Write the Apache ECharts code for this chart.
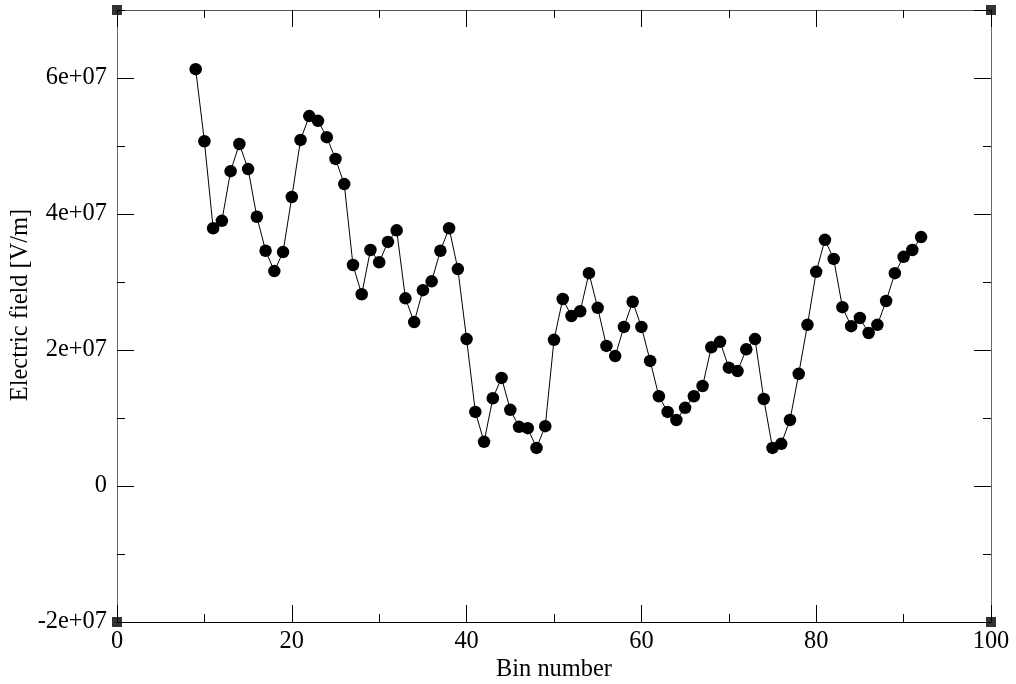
<!DOCTYPE html>
<html>
<head>
<meta charset="utf-8">
<script src="https://cdn.jsdelivr.net/npm/echarts@6/dist/echarts.min.js"></script>
<style>html,body{margin:0;padding:0;background:#fff;}#chart{width:1016px;height:684px;}</style>
</head>
<body>
<div id="chart"></div>
<script>
// ---- data ----
const bins = [9,10,11,12,13,14,15,16,17,18,19,20,21,22,23,24,25,26,27,28,29,30,31,32,33,34,35,36,37,38,39,40,41,42,43,44,45,46,47,48,49,50,51,52,53,54,55,56,57,58,59,60,61,62,63,64,65,66,67,68,69,70,71,72,73,74,75,76,77,78,79,80,81,82,83,84,85,86,87,88,89,90,91,92];
const efield = [6.13e7,5.07e7,3.79e7,3.90e7,4.63e7,5.03e7,4.66e7,3.96e7,3.46e7,3.16e7,3.44e7,4.25e7,5.09e7,5.44e7,5.37e7,5.13e7,4.81e7,4.44e7,3.25e7,2.82e7,3.47e7,3.29e7,3.59e7,3.76e7,2.76e7,2.41e7,2.88e7,3.01e7,3.46e7,3.79e7,3.19e7,2.16e7,1.09e7,0.65e7,1.29e7,1.59e7,1.12e7,0.87e7,0.85e7,0.56e7,0.88e7,2.15e7,2.75e7,2.50e7,2.57e7,3.13e7,2.62e7,2.06e7,1.91e7,2.34e7,2.71e7,2.34e7,1.84e7,1.32e7,1.09e7,0.97e7,1.15e7,1.32e7,1.47e7,2.04e7,2.12e7,1.74e7,1.69e7,2.01e7,2.16e7,1.28e7,0.56e7,0.62e7,0.97e7,1.65e7,2.37e7,3.15e7,3.62e7,3.34e7,2.63e7,2.35e7,2.47e7,2.25e7,2.37e7,2.72e7,3.13e7,3.37e7,3.47e7,3.66e7];
const xTickValues = [0,20,40,60,80,100];
const xTickLabels = ['0','20','40','60','80','100'];
const yTickValues = [-2e7,0,2e7,4e7,6e7];
const yTickLabels = ['-2e+07','0','2e+07','4e+07','6e+07'];
const xRange = [0,100];
const yRange = [-2e7,7e7];
const xTitle = 'Bin number';
const yTitle = 'Electric field [V/m]';

// ---- build ----
const FONT = 'Liberation Serif';
const FS = 24.4;
function lookup(vals, labels){ return function(v){ const i = vals.indexOf(v); return i>=0 ? labels[i] : ''; }; }
const pts = bins.map((b,i)=>[b, efield[i]]);
const corners = [[xRange[0],yRange[0]],[xRange[1],yRange[0]],[xRange[0],yRange[1]],[xRange[1],yRange[1]]];

const lblStyle = {fontFamily: FONT, fontSize: FS, color: '#000'};
function xAx(pos, showLabel, lineColor){
  return {
    type:'value', position: pos, min:xRange[0], max:xRange[1], interval:20,
    axisLine:{show:true, onZero:false, lineStyle:{color:lineColor, width:1}},
    axisTick:{show:true, inside:true, length:17, lineStyle:{color:'#000'}},
    minorTick:{show:true, splitNumber:2, length:8, lineStyle:{color:'#000'}},
    splitLine:{show:false},
    axisLabel: showLabel ? Object.assign({show:true, margin:8, formatter: lookup(xTickValues,xTickLabels)}, lblStyle) : {show:false},
    name: showLabel ? xTitle : '', nameLocation:'middle', nameGap:36, nameMoveOverlap:false,
    nameTextStyle: Object.assign({verticalAlign:'top'}, lblStyle)
  };
}
function yAx(pos, step, tickLen, showLabel, lineColor){
  return {
    type:'value', position: pos, min:yRange[0], max:yRange[1], interval:step,
    axisLine:{show:true, onZero:false, lineStyle:{color:lineColor, width:1}},
    axisTick:{show:true, inside:true, length:tickLen, lineStyle:{color:'#000'}},
    splitLine:{show:false},
    axisLabel: showLabel ? Object.assign({show:true, margin:10, showMaxLabel:false, formatter: lookup(yTickValues,yTickLabels)}, lblStyle) : {show:false},
    name: showLabel ? yTitle : '', nameLocation:'middle', nameGap:84, nameRotate:90, nameMoveOverlap:false,
    nameTextStyle: Object.assign({padding:[0,0,0,22]}, lblStyle)
  };
}

const chart = echarts.init(document.getElementById('chart'), null, {renderer:'canvas'});
chart.setOption({
  animation:false,
  backgroundColor:'#fff',
  grid:{left:117, right:25, top:10, bottom:62, containLabel:false, outerBoundsMode:'none'},
  xAxis:[ xAx('bottom', true, '#000'), xAx('top', false, '#555') ],
  yAxis:[
    yAx('left', 2e7, 17, true, '#666'),
    yAx('left', 1e7, 8, false, '#666'),
    yAx('right', 2e7, 17, false, '#666'),
    yAx('right', 1e7, 8, false, '#666')
  ],
  series:[
    {type:'line', xAxisIndex:0, yAxisIndex:0, data:pts, symbol:'circle', symbolSize:12.5,
     lineStyle:{color:'#000', width:1}, itemStyle:{color:'#000'}, z:3},
    {type:'scatter', xAxisIndex:0, yAxisIndex:0, data:corners, symbol:'rect', symbolSize:10,
     itemStyle:{color:'#000'}, clip:false, z:5}
  ]
});
</script>
</body>
</html>
